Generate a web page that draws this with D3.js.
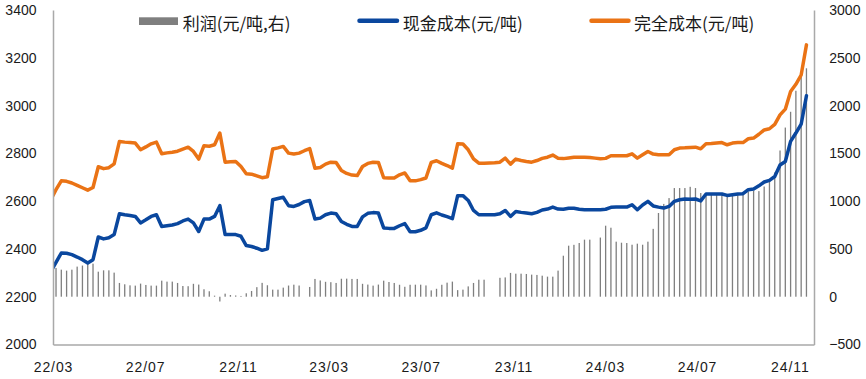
<!DOCTYPE html>
<html><head><meta charset="utf-8">
<script src="https://cdn.jsdelivr.net/npm/d3@7"></script>
<style>body{margin:0;background:#fff}svg{display:block}</style>
</head><body>
<svg id="c" width="866" height="379"></svg>
<script>
// weekly observations, first one (just before the axis start) is clipped
const firstWeek = "2022-02-26";
const cashCost = [2305,
 2344,2383,2382,2376,2366,2355,2341,2355,2450,2442,
 2447,2460,2547,2543,2540,2536,2509,2522,2536,2543,
 2494,2497,2500,2506,2517,2525,2509,2473,2525,2525,
 2536,2581,2460,2460,2460,2453,2414,2410,2403,2394,
 2400,2606,2611,2616,2581,2578,2586,2598,2603,2525,
 2529,2543,2550,2547,2515,2503,2494,2494,2534,2549,
 2552,2550,2488,2486,2486,2497,2506,2472,2472,2478,
 2488,2543,2551,2542,2535,2527,2623,2623,2603,2561,
 2543,2543,2543,2543,2547,2561,2536,2557,2553,2550,
 2547,2553,2563,2567,2575,2567,2566,2570,2570,2566,
 2564,2564,2564,2564,2566,2574,2575,2575,2575,2585,
 2564,2584,2599,2580,2575,2571,2578,2599,2606,2609,
 2608,2609,2601,2630,2630,2630,2630,2624,2627,2630,
 2631,2648,2651,2664,2680,2687,2703,2751,2766,2850,
 2885,2922,3041];
const fullCost = [2605,
 2648,2685,2683,2676,2666,2656,2646,2657,2744,2736,
 2740,2756,2850,2847,2845,2843,2815,2827,2840,2847,
 2798,2802,2805,2809,2818,2826,2808,2776,2832,2830,
 2836,2885,2763,2765,2766,2745,2715,2713,2706,2698,
 2702,2818,2823,2829,2801,2797,2801,2811,2820,2738,
 2741,2755,2763,2762,2728,2716,2709,2707,2745,2758,
 2763,2762,2698,2697,2697,2710,2718,2685,2685,2690,
 2697,2762,2769,2758,2749,2738,2840,2839,2815,2777,
 2759,2759,2760,2761,2763,2780,2755,2776,2770,2766,
 2763,2770,2779,2784,2793,2780,2778,2781,2784,2784,
 2784,2783,2780,2777,2779,2790,2790,2790,2790,2798,
 2780,2794,2808,2797,2794,2794,2794,2815,2822,2823,
 2825,2826,2819,2840,2841,2843,2845,2836,2843,2845,
 2845,2861,2864,2880,2898,2903,2921,2961,2985,3059,
 3089,3128,3254];
const profit = [null,
 301,283,273,283,315,326,343,346,262,276,
 276,252,144,130,119,116,137,123,116,116,
 168,158,158,144,112,110,135,127,78,57,
 11,-50,32,18,13,8,36,60,100,145,
 120,74,74,95,117,126,117,null,102,186,
 170,156,152,144,188,189,186,186,135,127,
 116,127,168,154,144,125,104,125,126,126,
 118,66,83,125,147,158,69,74,108,144,
 178,178,null,null,198,202,249,241,241,238,
 231,228,220,210,210,273,429,534,543,562,
 597,597,null,619,743,722,576,565,562,544,
 555,544,576,710,876,971,1032,1137,1137,1137,
 1150,1137,1085,1075,1075,1075,1075,1075,1075,1075,
 1075,1100,1108,1105,1153,1215,1300,1530,1770,1935,
 2155,2320,2390];
const leftTicks = [2000,2200,2400,2600,2800,3000,3200,3400];
const rightTicks = [-500,0,500,1000,1500,2000,2500,3000];
const xTickDates = ["2022-03-01","2022-07-01","2022-11-01","2023-03-01","2023-07-01","2023-11-01","2024-03-01","2024-07-01","2024-11-01"];
const xTickLabels = ["22/03","22/07","22/11","23/03","23/07","23/11","24/03","24/07","24/11"];
const seriesNames = ["利润(元/吨,右)","现金成本(元/吨)","完全成本(元/吨)"];

const C_BAR = "#7f7f7f", C_BLUE = "#0a479e", C_ORANGE = "#ea7315";
const parse = d3.utcParse("%Y-%m-%d");
const dates = cashCost.map((_, i) => d3.utcDay.offset(parse(firstWeek), 7 * i));

const L = 53, R = 814, T = 10, B = 344.5;
const x = d3.scaleUtc().domain([parse("2022-03-01"), parse("2024-12-03")]).range([L, R]);
const yL = d3.scaleLinear().domain([2000, 3400]).range([B, T]);
const yR = d3.scaleLinear().domain([-500, 3000]).range([B, T]);

const svg = d3.select("#c");
svg.append("defs").append("clipPath").attr("id", "plot")
  .append("rect").attr("x", L).attr("y", 0).attr("width", R - L).attr("height", 379);

const plot = svg.append("g").attr("clip-path", "url(#plot)");

// bars
plot.append("g").selectAll("rect")
  .data(profit.map((v, i) => ({v, d: dates[i]})).filter(o => o.v !== null))
  .join("rect")
  .attr("x", o => x(o.d) - 0.65)
  .attr("width", 1.3)
  .attr("y", o => Math.min(yR(o.v), yR(0)))
  .attr("height", o => Math.abs(yR(o.v) - yR(0)))
  .attr("fill", C_BAR);

// lines
const mkLine = arr => d3.line().x((v, i) => x(dates[i])).y(v => yL(v))(arr);
plot.append("path").attr("d", mkLine(cashCost)).attr("fill", "none")
  .attr("stroke", C_BLUE).attr("stroke-width", 3.5).attr("stroke-linejoin", "round").attr("stroke-linecap", "round");
plot.append("path").attr("d", mkLine(fullCost)).attr("fill", "none")
  .attr("stroke", C_ORANGE).attr("stroke-width", 3.5).attr("stroke-linejoin", "round").attr("stroke-linecap", "round");

// axes
const FONT = "'Liberation Sans', Arial, sans-serif";
function styleAxis(g) {
  g.select(".domain").attr("stroke", "#a9a9a9").attr("stroke-width", 1.5);
  g.selectAll("text").attr("font-family", FONT).attr("font-size", 14).attr("fill", "#1a1a1a");
}
svg.append("g").attr("transform", `translate(${L},0)`)
  .call(d3.axisLeft(yL).tickValues(leftTicks).tickSize(0).tickSizeOuter(0).tickPadding(16.5).tickFormat(d3.format("d")))
  .call(styleAxis);
svg.append("g").attr("transform", `translate(${R},0)`)
  .call(d3.axisRight(yR).tickValues(rightTicks).tickSize(0).tickSizeOuter(0).tickPadding(15.3).tickFormat(d3.format("d")))
  .call(styleAxis);
svg.append("g").attr("transform", `translate(0,${B})`)
  .call(d3.axisBottom(x).tickValues(xTickDates.map(parse)).tickSize(0).tickSizeOuter(0).tickPadding(17.5)
        .tickFormat((d, i) => xTickLabels[i]))
  .call(styleAxis)
  .call(g => g.selectAll("text").attr("letter-spacing", "0.9px"));

// legend
const LFONT = "'Noto Sans CJK SC', 'Noto Sans', sans-serif";
const lg = svg.append("g");
lg.append("rect").attr("x", 139).attr("y", 17.3).attr("width", 39).attr("height", 7.7).attr("fill", C_BAR);
lg.append("text").attr("x", 182.7).attr("y", 22).text(seriesNames[0]);
lg.append("line").attr("x1", 359.5).attr("x2", 397).attr("y1", 20.7).attr("y2", 20.7)
  .attr("stroke", C_BLUE).attr("stroke-width", 4.5).attr("stroke-linecap", "round");
lg.append("text").attr("x", 402.7).attr("y", 22).text(seriesNames[1]);
lg.append("line").attr("x1", 591.5).attr("x2", 628.5).attr("y1", 20.7).attr("y2", 20.7)
  .attr("stroke", C_ORANGE).attr("stroke-width", 4.5).attr("stroke-linecap", "round");
lg.append("text").attr("x", 634).attr("y", 22).text(seriesNames[2]);
lg.selectAll("text").attr("font-family", LFONT).attr("font-size", 17).attr("fill", "#1a1a1a")
  .attr("dominant-baseline", "central");
</script>
</body></html>
